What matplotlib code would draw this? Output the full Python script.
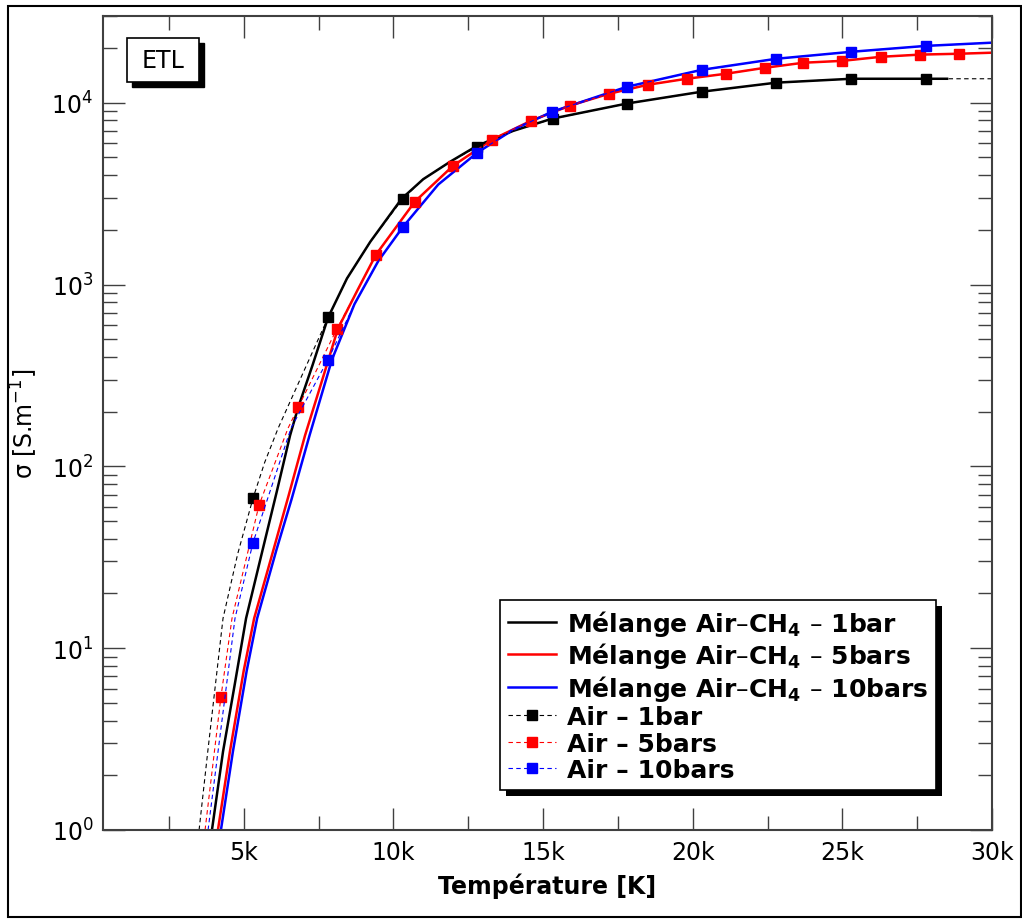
import numpy as np
import matplotlib.pyplot as plt
from matplotlib.patches import Rectangle
from matplotlib.ticker import MultipleLocator, FuncFormatter, LogLocator, NullFormatter
from matplotlib.transforms import offset_copy

# Mélange Air-CH4 (solid lines), T [K] / sigma [S/m]
mel1_T = [3940, 4150, 4310, 4700, 5080, 5600, 6100, 6550, 6820, 7300, 7820, 8450, 9230,
          10280, 11000, 11900, 12800, 14000, 15300, 17800, 20300, 22800, 25300, 27800, 28500]
mel1_s = [1.0, 1.76, 2.7, 6.3, 14.6, 33, 72, 148, 211, 360, 659, 1080, 1720,
          2970, 3800, 4740, 5800, 7000, 8170, 9900, 11500, 12900, 13550, 13550, 13550]

mel5_T = [4140, 4540, 5000, 5350, 6000, 6500, 7050, 7600, 8150, 8800, 9420, 10720, 12000,
          13300, 14600, 15900, 17200, 18500, 19800, 21100, 22400, 23700, 25000, 26300,
          27600, 28900, 30000]
mel5_s = [1.0, 2.7, 7.5, 14.6, 35, 69, 148, 290, 573, 930, 1462, 2860, 4510,
          6270, 7960, 9640, 11200, 12560, 13550, 14430, 15560, 16600, 17000, 17900,
          18400, 18600, 18850]

mel10_T = [4240, 4640, 5100, 5450, 6100, 6600, 7200, 7950, 8700, 9500, 10320, 11500, 12800,
           14000, 15300, 17800, 20300, 22800, 25300, 27800, 30000]
mel10_s = [1.0, 2.7, 7.5, 14.6, 35, 66, 148, 387, 780, 1350, 2075, 3550, 5310,
           7100, 8920, 12240, 15170, 17460, 19070, 20550, 21400]

# Air (dashed lines with square markers)
air1_T = [3510, 3800, 4310, 4800, 5310, 5700, 6150, 6800, 7820, 8450, 9230, 10320, 11000,
          11900, 12800, 14000, 15340, 17800, 20300, 22800, 25300, 27800, 30000]
air1_s = [1.0, 2.7, 14.6, 33, 66.7, 105, 162, 280, 659, 1080, 1720, 2970, 3800,
          4740, 5730, 7000, 8170, 9900, 11500, 12900, 13550, 13550, 13550]
air1_mk = [5310, 7820, 10320, 12800, 15340, 17800, 20300, 22800, 25300, 27800]

air5_T = [3710, 4240, 4610, 5510, 6480, 6820, 8120, 8800, 9420, 10720, 12000, 13300, 14600,
          15900, 17200, 18500, 19800, 21100, 22400, 23700, 25000, 26300, 27600, 28900, 30000]
air5_s = [1.0, 5.4, 14.6, 61, 162, 211, 573, 930, 1462, 2860, 4510, 6270, 7960,
          9640, 11200, 12560, 13550, 14430, 15560, 16600, 17000, 17900, 18400, 18600, 18850]
air5_mk = [4240, 5510, 6820, 8120, 9420, 10720, 12000, 13300, 14600, 15900, 17200,
           18500, 19800, 21100, 22400, 23700, 25000, 26300, 27600, 28900]

air10_T = [3810, 4200, 4710, 5310, 6580, 7820, 8700, 9500, 10320, 11500, 12800, 14000,
           15300, 17800, 20300, 22800, 25300, 27800, 30000]
air10_s = [1.0, 3.2, 14.6, 38, 162, 387, 780, 1350, 2075, 3550, 5310, 7100,
           8920, 12240, 15170, 17460, 19070, 20550, 21400]
air10_mk = [5310, 7820, 10320, 12800, 15300, 17800, 20300, 22800, 25300, 27800]

fig = plt.figure(figsize=(10.22, 9.2), dpi=100)
ax = fig.add_axes([0.10078, 0.09674, 0.86987, 0.88478])

ax.plot(mel1_T, mel1_s, color='black', lw=1.8, label='Mélange Air–CH$_\\mathbf{4}$ – 1bar')
ax.plot(mel5_T, mel5_s, color='#ff0000', lw=1.8, label='Mélange Air–CH$_\\mathbf{4}$ – 5bars')
ax.plot(mel10_T, mel10_s, color='#0000ff', lw=1.8, label='Mélange Air–CH$_\\mathbf{4}$ – 10bars')

for T, s, mk, c, lab in [(air1_T, air1_s, air1_mk, 'black', 'Air – 1bar'),
                         (air5_T, air5_s, air5_mk, '#ff0000', 'Air – 5bars'),
                         (air10_T, air10_s, air10_mk, '#0000ff', 'Air – 10bars')]:
    idx = [i for i, t in enumerate(T) if t in mk]
    ax.plot(T, s, color=c, lw=0.8, ls=(0, (4, 3)), marker='s', ms=7,
            markevery=idx, label=lab)

ax.set_yscale('log')
ax.set_xlim(300, 30000)
ax.set_ylim(1, 30000)

ax.xaxis.set_major_locator(MultipleLocator(5000))
ax.xaxis.set_minor_locator(MultipleLocator(2500))
ax.xaxis.set_major_formatter(FuncFormatter(lambda v, p: '%dk' % (v / 1000)))
ax.yaxis.set_major_locator(LogLocator(base=10))
ax.yaxis.set_minor_locator(LogLocator(base=10, subs=np.arange(2, 10)))
ax.yaxis.set_minor_formatter(NullFormatter())

ax.tick_params(which='both', direction='in', top=True, right=True, color='#404040', width=1)
ax.tick_params(which='major', length=16, labelsize=17, pad=7)
ax.tick_params(which='minor', length=10)
for sp in ax.spines.values():
    sp.set_color('#404040')
    sp.set_linewidth(1.5)

ax.set_xlabel('Température [K]', fontsize=17, fontweight='bold', labelpad=6)
ax.set_ylabel('σ [S.m$^{-1}$]', fontsize=17, labelpad=8)

# ETL box with shadow
box_x0, box_y0, box_w, box_h = 0.0270, 0.9189, 0.0810, 0.0541
sh = offset_copy(ax.transAxes, fig=fig, x=5, y=-5, units='dots')
ax.add_patch(Rectangle((box_x0, box_y0), box_w, box_h, transform=sh,
                       fc='black', ec='black', zorder=6))
ax.add_patch(Rectangle((box_x0, box_y0), box_w, box_h, transform=ax.transAxes,
                       fc='white', ec='black', lw=1.2, zorder=7))
ax.text(box_x0 + box_w / 2, box_y0 + box_h / 2, 'ETL', transform=ax.transAxes,
        ha='center', va='center', fontsize=17, zorder=8)

leg = ax.legend(loc='lower right', bbox_to_anchor=(0.937, 0.0491), borderaxespad=0,
                fancybox=False, edgecolor='black', framealpha=1,
                prop={'weight': 'bold', 'size': 18}, handlelength=1.9,
                labelspacing=0.1, borderpad=0.32, handletextpad=0.45)
leg.get_frame().set_linewidth(1.2)
leg.set_zorder(6)

fig.canvas.draw()
bb = leg.get_window_extent()
ax.add_patch(Rectangle((bb.x0 + 6, bb.y0 - 6), bb.width, bb.height, transform=None,
                       fc='black', ec='none', zorder=5.5))

# outer frame
fig.add_artist(Rectangle((0.0078, 0.0022), 0.9912, 0.9902, transform=fig.transFigure,
                         fill=False, ec='black', lw=1.5))

fig.savefig('out.png', dpi=100)
